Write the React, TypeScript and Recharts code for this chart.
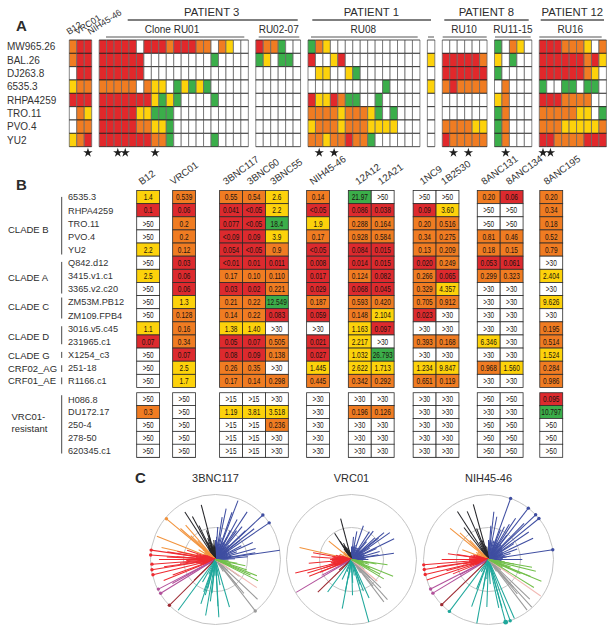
import React from 'react';
import { ScatterChart, Scatter, XAxis, YAxis, ReferenceDot, Symbols } from 'recharts';

const FONT = "'Liberation Sans', Arial, sans-serif";
const RED = '#e1282b';
const ORANGE = '#f07c22';
const YELLOW = '#fdd20b';
const GREEN = '#3bae4a';
const colorOf: Record<string, string> = { R: RED, O: ORANGE, Y: YELLOW, G: GREEN, W: '#ffffff' };

// ---- panel A: neutralization matrix, one string per virus row, per antibody group
const strainsA = ['MW965.26', 'BAL.26', 'DJ263.8', '6535.3', 'RHPA4259', 'TRO.11', 'PVO.4', 'YU2'];
const controls = ['ORR', 'ORR', 'WRR', 'YOO', 'RRR', 'WOY', 'WOO', 'YOR'];
const cloneRU01 = [
  'RRRRRWRRRORRROOWOYWW',
  'RRRRRRWWWWWWWWWGWWWW',
  'RRRRRRWWWWWWWWWWWWWW',
  'OOOOOWOYYWGYGYGWWWWW',
  'RRRRRRRYGYGWWWWGWWWW',
  'RRRRRYYGGGWWWWWWWWWW',
  'RRRRROOYYGWWWWWWWWWW',
  'RRRRRRROOGWWWWWGWWWW',
];
const ru0207 = ['ROOGWW', 'GYWGGW', 'WWWWWW', 'WWWWWW', 'WWWWWW', 'WWWWWW', 'WWWWWW', 'WWWWWW'];
const ru08 = [
  'GOYWWWWWWWWWWWW',
  'RWWYRWWWWWWWWWW',
  'WYYWWYGWWWWWWWW',
  'WWWWWWWWWWGWWWW',
  'RYYROGGWWGWWWWW',
  'OOOOYOOOYGWGWWW',
  'YOOOYOOOYYYYWWW',
  'OOYOOROOGWWWWWW',
];
const single = ['W', 'Y', 'W', 'Y', 'W', 'W', 'W', 'W'];
const ru10 = ['WWWWWW', 'RRRRRO', 'RRRRRR', 'OROOOO', 'WWWWWW', 'WWWWWW', 'OOOOYY', 'ROOOOO'];
const ru1115 = ['GWOYW', 'YWGWW', 'GWWWW', 'WOWWW', 'YOWWW', 'GOWWW', 'GOWWW', 'GOWWW'];
const ru16 = [
  'RRROOOYWO',
  'RRRRRRORY',
  'RRRRRROYW',
  'GWWGGWGGW',
  'RRROOOOWW',
  'OOOOOYYWG',
  'OOOYYYYYO',
  'RROOOORRR',
];
const starColumnsA = [2, 6, 7, 11, 33, 35, 51, 53, 58, 63, 64];

// ---- panel B: IC50 table
const strainsB = [
  '6535.3', 'RHPA4259', 'TRO.11', 'PVO.4', 'YU2', 'Q842.d12', '3415.v1.c1', '3365.v2.c20', 'ZM53M.PB12', 'ZM109.FPB4',
  '3016.v5.c45', '231965.c1', 'X1254_c3', '251-18', 'R1166.c1', 'H086.8', 'DU172.17', '250-4', '278-50', '620345.c1',
];
const antibodiesB = ['B12', 'VRC01', '3BNC117', '3BNC60', '3BNC55', 'NIH45-46', '12A12', '12A21', '1NC9', '1B2530', '8ANC131', '8ANC134', '8ANC195'];
const b12 = ['1.4', '0.1', '>50', '>50', '2.2', '>50', '2.5', '>50', '>50', '>50', '1.1', '0.07', '>50', '>50', '>50', '>50', '0.3', '>50', '>50', '>50'];
const vrc01 = ['0.539', '0.06', '0.2', '0.2', '0.12', '0.03', '0.06', '0.06', '1.3', '0.128', '0.16', '0.34', '0.07', '2.5', '1.7', '>50', '>50', '>50', '>50', '>50'];
const bnc117 = ['0.55', '0.041', '0.077', '<0.09', '0.054', '<0.01', '0.17', '0.03', '0.21', '0.14', '1.38', '0.05', '0.08', '0.26', '0.17', '>15', '1.19', '>15', '>15', '>15'];
const bnc60 = ['0.54', '<0.05', '<0.05', '0.09', '<0.05', '0.01', '0.10', '0.02', '0.22', '0.22', '1.40', '0.07', '0.09', '0.35', '0.14', '>15', '3.81', '>15', '>15', '>15'];
const bnc55 = ['2.6', '2.2', '18.4', '3.9', '0.9', '0.011', '0.110', '0.221', '12.549', '0.083', '>30', '0.505', '0.138', '>30', '0.298', '>30', '3.518', '0.236', '>30', '>30'];
const nih4546 = ['0.14', '<0.05', '1.9', '0.17', '<0.05', '0.008', '0.017', '0.029', '0.187', '0.059', '>30', '0.021', '0.027', '1.445', '0.445', '>30', '>30', '>30', '>30', '>30'];
const a12 = ['21.97', '0.086', '0.288', '0.928', '0.084', '0.014', '0.124', '0.068', '0.593', '0.148', '1.163', '2.217', '1.032', '2.622', '0.342', '>30', '0.196', '>30', '>30', '>30'];
const a21 = ['>50', '0.038', '0.164', '0.584', '0.015', '0.015', '0.082', '0.045', '0.420', '2.104', '0.097', '>30', '26.793', '1.713', '0.292', '>30', '0.126', '>30', '>30', '>30'];
const nc9 = ['>50', '0.09', '0.20', '0.34', '0.13', '0.020', '0.266', '0.329', '0.705', '0.023', '>30', '0.393', '>30', '1.234', '0.651', '>30', '>30', '>30', '>30', '>30'];
const b2530 = ['>50', '3.60', '0.516', '0.275', '0.209', '0.249', '0.065', '4.357', '0.912', '>30', '>30', '0.168', '>30', '9.847', '0.119', '>30', '>30', '>30', '>30', '>30'];
const anc131 = ['0.20', '>50', '>50', '0.81', '0.18', '0.053', '0.299', '>30', '>30', '>30', '>30', '6.346', '>30', '0.968', '>30', '>50', '>30', '>50', '>50', '>50'];
const anc134 = ['0.06', '>50', '>50', '0.46', '0.15', '0.061', '0.323', '>30', '>30', '>30', '>30', '>30', '>30', '1.560', '>30', '>50', '>30', '>50', '>50', '>50'];
const anc195 = ['0.20', '0.34', '0.18', '0.52', '0.79', '>30', '2.404', '>30', '9.626', '>30', '0.195', '0.514', '1.524', '0.284', '0.986', '0.095', '10.797', '>50', '>50', '>50'];

// ---- panel C: spokes as [angle clockwise from north in degrees, radius 0..1, tip dot size]
type Spoke = number[];
const bnc117Blue: Spoke[] = [[20.9, 0.97], [46.8, 1, 1], [55.7, 1, 1], [81.8, 1], [11.8, 0.8], [8.9, 0.66], [19.3, 0.77], [28.4, 0.7], [33.6, 0.88], [39, 0.65], [51.5, 0.76], [65.5, 0.63], [74.6, 0.64], [80.5, 0.62], [4, 0.5], [27, 0.5], [46, 0.64], [52, 0.48], [85, 0.5], [27, 0.39], [36, 0.55], [62, 0.45], [70, 0.35], [15, 0.35], [3, 0.35], [0, 0.3], [8, 0.28], [18, 0.25], [24, 0.3], [32, 0.28], [43, 0.3], [57, 0.25], [66, 0.22], [78, 0.25], [88, 0.3], [1, 0.25], [5, 0.22], [11, 0.25], [14, 0.2], [21, 0.22], [29, 0.2], [35, 0.22], [40, 0.25], [48, 0.2], [54, 0.22], [60, 0.2], [72, 0.2], [83, 0.18], [92, 0.2]];
const bnc117Black: Spoke[] = [[-14.6, 0.87], [-32.8, 0.87], [-28.3, 0.75], [-26, 0.58], [-17, 0.47], [-15, 0.39], [-5, 0.3], [-20, 0.35], [-10, 0.25], [-24, 0.3], [-30, 0.22], [-3, 0.2], [-7, 0.22], [-13, 0.2], [-18, 0.22], [-22, 0.18], [-27, 0.2], [-34, 0.18]];
const bnc117Orange: Spoke[] = [[-50.3, 0.98, 1], [-68.4, 0.97], [-41, 0.7], [-48.5, 0.72], [-46, 0.53], [-77.5, 0.85], [-43, 0.4], [-60, 0.3], [-52, 0.25], [-56, 0.2], [-64, 0.2]];
const bnc117Red: Spoke[] = [[-81.7, 1, 1], [-86, 1, 1], [-94.2, 0.98, 1], [-99.2, 0.99, 1], [-103.7, 0.99, 1], [-90, 0.87], [-81, 0.75], [-87, 0.75], [-98, 0.8], [-112, 0.86], [-110, 0.7], [-86, 0.6], [-96, 0.55], [-72, 0.46], [-92, 0.45], [-78, 0.6], [-70, 0.2], [-75, 0.3], [-80, 0.25], [-84, 0.3], [-89, 0.22], [-94, 0.28], [-101, 0.3], [-106, 0.25], [-112, 0.2], [-66, 0.15], [-68, 0.18], [-73, 0.2], [-77, 0.22], [-82, 0.2], [-87, 0.24], [-91, 0.2], [-97, 0.22], [-104, 0.2], [-108, 0.22], [-115, 0.18], [-119, 0.15]];
const bnc117Purple: Spoke[] = [[-117.4, 0.99, 1], [-121.6, 0.99, 1], [-119, 0.76]];
const bnc117Maroon: Spoke[] = [[-134.8, 1, 1], [-134, 0.46]];
const bnc117Teal: Spoke[] = [[-143.7, 0.97], [-170, 0.875], [176.7, 0.89], [163.7, 0.765], [-161.8, 0.72], [-173, 0.65], [-164, 0.57], [177, 0.72], [-160, 0.53], [-174, 0.52], [-165, 0.46], [-150, 0.4], [170, 0.4], [-178, 0.25], [-156, 0.25], [174, 0.25]];
const bnc117Gray: Spoke[] = [[142.3, 1, 1], [133.4, 0.89], [140, 0.68], [140, 0.51], [125, 0.45], [132, 0.25], [147, 0.22]];
const bnc117Pink: Spoke[] = [[124.2, 0.77]];
const bnc117Green: Spoke[] = [[111.4, 0.685], [116.6, 0.73], [108.6, 0.51], [114, 0.59], [102, 0.47], [100, 0.34], [106, 0.25], [112, 0.2], [97, 0.2]];

const vrcBlue: Spoke[] = [[19.4, 0.55], [10.8, 0.44], [37.5, 0.55], [32.7, 0.51], [55, 0.72], [50.4, 0.65], [64, 0.73], [81.6, 0.66], [51.7, 0.53], [47, 0.49], [74, 0.45], [80, 0.42], [40, 0.36], [14, 0.23], [37, 0.22], [66, 0.42], [5, 0.35], [58, 0.33], [90, 0.26], [62, 0.2], [0, 0.2], [24, 0.2], [48, 0.2], [72, 0.22], [84, 0.2], [3, 0.16], [9, 0.2], [17, 0.18], [29, 0.2], [33, 0.17], [43, 0.18], [54, 0.2], [68, 0.18], [77, 0.2], [87, 0.22], [94, 0.18]];
const vrcBlack: Spoke[] = [[-14.9, 0.65], [-32.8, 0.48], [-32, 0.33], [-26, 0.28], [-26, 0.22], [-20, 0.18], [-29, 0.25], [-35, 0.2], [-23, 0.2], [-15, 0.15], [-10, 0.12]];
const vrcOrange: Spoke[] = [[-77, 0.82], [-51, 0.45], [-45, 0.17], [-65, 0.2], [-55, 0.15]];
const vrcRed: Spoke[] = [[-86, 0.62], [-80, 0.6], [-95, 0.66], [-103.6, 0.89], [-107, 0.71], [-111.6, 0.7], [-112, 0.52], [-90, 0.33], [-103, 0.36], [-107, 0.45], [-75, 0.25], [-82, 0.3], [-86, 0.26], [-93, 0.3], [-98, 0.32], [-108, 0.25], [-114, 0.22], [-70, 0.15], [-72, 0.2], [-78, 0.22], [-84, 0.28], [-88, 0.3], [-91, 0.26], [-96, 0.28], [-100, 0.3], [-105, 0.3], [-110, 0.28], [-117, 0.18]];
const vrcPurple: Spoke[] = [[-120.7, 0.99], [-118, 0.52]];
const vrcMaroon: Spoke[] = [[-134, 0.72], [-130, 0.25]];
const vrcTeal: Spoke[] = [[-143.7, 0.62], [-169.3, 0.77], [164.5, 1], [178.4, 0.55], [-169, 0.51], [177, 0.36], [155.4, 0.65], [159.4, 0.52], [161, 0.41], [-171, 0.29], [-155, 0.34], [170, 0.25], [-160, 0.2], [-178, 0.2]];
const vrcGray: Spoke[] = [[138.2, 0.83], [142.6, 0.82], [134, 0.63], [141, 0.53], [135, 0.4], [146, 0.25], [128, 0.25]];
const vrcPink: Spoke[] = [[130, 0.52]];
const vrcGreen: Spoke[] = [[98.4, 0.56], [112, 0.69], [121, 0.58], [117, 0.49], [115, 0.31], [100, 0.39], [100, 0.24], [108, 0.2], [105, 0.28]];

const nihBlue: Spoke[] = [[19.9, 1, 1], [37.8, 1, 1], [46.5, 1, 1], [50.9, 1, 1], [81.4, 1, 1], [6.4, 0.74], [11, 0.67], [4, 0.52], [25.9, 0.56], [30.6, 0.63], [33.3, 0.76], [44.5, 0.78], [55.7, 0.75], [64.5, 0.76], [90, 0.52], [58, 0.46], [70, 0.47], [22, 0.49], [22, 0.32], [37, 0.47], [75, 0.35], [0, 0.3], [12, 0.28], [30, 0.3], [48, 0.28], [62, 0.25], [82, 0.28], [3, 0.26], [7, 0.3], [16, 0.3], [26, 0.28], [34, 0.26], [41, 0.3], [52, 0.26], [67, 0.24], [72, 0.22], [78, 0.26], [86, 0.22], [94, 0.2]];
const nihBlack: Spoke[] = [[-15.4, 0.88], [-32.9, 0.88], [-23.9, 0.81], [-37.5, 0.62], [-21, 0.51], [-19, 0.31], [-8, 0.2], [-28, 0.3], [-33, 0.2], [-13, 0.22]];
const nihOrange: Spoke[] = [[-51, 0.76], [-69.4, 0.43], [-47, 0.6], [-44, 0.41], [-60, 0.22], [-54, 0.2], [-65, 0.2]];
const nihRed: Spoke[] = [[-82, 0.63], [-81, 0.49], [-94.7, 1, 1], [-98.8, 1, 1], [-103.3, 1, 1], [-108.4, 1], [-90, 0.72], [-98, 0.8], [-105, 0.67], [-112, 0.59], [-100, 0.4], [-72, 0.2], [-78, 0.28], [-85, 0.3], [-92, 0.25], [-96, 0.3], [-104, 0.28], [-110, 0.22], [-74, 0.25], [-76, 0.2], [-83, 0.25], [-88, 0.3], [-90, 0.2], [-94, 0.3], [-102, 0.24], [-107, 0.3], [-114, 0.2]];
const nihPurple: Spoke[] = [[-117, 1, 1], [-121.2, 1, 1], [-118, 0.5]];
const nihMaroon: Spoke[] = [[-134, 1, 1]];
const nihTeal: Spoke[] = [[-143, 1, 1], [-169.6, 1], [164.7, 1, 2], [160.5, 1, 1], [156.3, 0.99], [-178, 0.73], [-160.3, 0.77], [-170, 0.46], [-158, 0.49], [168, 0.76], [164.4, 0.77], [176, 0.38], [-175, 0.3], [-150, 0.22], [172, 0.2]];
const nihGray: Spoke[] = [[137.8, 0.99], [142.7, 0.98], [133.8, 0.88], [140, 0.69], [138, 0.58], [130, 0.25], [146, 0.22]];
const nihPink: Spoke[] = [[124.9, 0.98]];
const nihGreen: Spoke[] = [[112.4, 0.88], [121.6, 0.82], [104, 0.75], [100, 0.68], [112, 0.7], [114, 0.54], [100, 0.4], [109, 0.36], [105, 0.22], [118, 0.25], [98, 0.25]];

const BLUE = '#3f4ea1';
const BLACK = '#26262a';
const SPOKE_ORANGE = '#f2933c';
const SPOKE_RED = '#ee2a30';
const PURPLE = '#b2519b';
const MAROON = '#9d2b33';
const TEAL = '#1fa79b';
const GRAY = '#9a9a9a';
const PINK = '#f2b9b4';
const SPOKE_GREEN = '#72bf4a';

// ---- layout
const aGroups = [controls, cloneRU01, ru0207, ru08, single, ru10, ru1115, ru16];
const aGroupStart = [0, 4, 25, 32, 48, 50, 57, 63];
const A_CELL_W = 7.46;
const A_CELL_H = 13.33;
const B_CELL_W = 22.9;
const B_CELL_H = 13.13;
const B_TOP = 137.78; // page y of panel B's chart
const bColumns = [b12, vrc01, bnc117, bnc60, bnc55, nih4546, a12, a21, nc9, b2530, anc131, anc134, anc195];
const bColumnPos = [0, 1.57, 3.62, 4.62, 5.62, 7.42, 9.24, 10.24, 12.07, 13.07, 14.87, 15.87, 17.6];
const bRowPos = strainsB.map((_, i) => (i < 15 ? i + 0.5 : 15.41 + (i - 15 + 0.5) * 0.98));

const cellsA = aGroups.flatMap((rows, g) =>
  rows.flatMap((row, r) => [...row].map((code, c) => ({ x: aGroupStart[g] + c + 0.5, y: r + 0.5, code }))),
);
const starsA = starColumnsA.map((c) => ({ x: c + 0.5, y: 8.45 }));

// IC50 colour bins; the 0.1 of B12 on RHPA4259 is printed red, the 0.10 of 3BNC60 orange
const binColor = (v: string) => {
  if (v[0] === '>') return '#ffffff';
  const n = parseFloat(v.replace('<', ''));
  if (n < 0.1 || v === '0.1') return '#dd2a2e';
  if (n < 1) return ORANGE;
  if (n < 10) return YELLOW;
  return GREEN;
};
const cellsB = bColumns.flatMap((values, c) =>
  values.map((value, r) => ({ x: bColumnPos[c] + 0.5, y: bRowPos[r], value })),
);

const HeatCellA = (props: any) => {
  const { cx, cy, payload } = props;
  const x = cx - A_CELL_W / 2;
  const y = cy - A_CELL_H / 2;
  return (
    <g>
      <rect x={x} y={y} width={A_CELL_W} height={A_CELL_H} fill={colorOf[payload.code]} />
      <line x1={x} x2={x} y1={y} y2={y + A_CELL_H} stroke="#6a6a6a" strokeWidth={0.8} />
      <line x1={x + A_CELL_W} x2={x + A_CELL_W} y1={y} y2={y + A_CELL_H} stroke="#6a6a6a" strokeWidth={0.8} />
      <line x1={x} x2={x + A_CELL_W} y1={y} y2={y} stroke="#1e1e1e" strokeWidth={0.8} />
      <line x1={x} x2={x + A_CELL_W} y1={y + A_CELL_H} y2={y + A_CELL_H} stroke="#1e1e1e" strokeWidth={0.8} />
    </g>
  );
};

const HeatCellB = (props: any) => {
  const { cx, cy, payload } = props;
  return (
    <g>
      <rect x={cx - B_CELL_W / 2} y={cy - B_CELL_H / 2} width={B_CELL_W} height={B_CELL_H} fill={binColor(payload.value)} stroke="#2b2b2b" strokeWidth={0.8} />
      <text
        transform={`translate(${cx},${cy + 3.2}) scale(0.7,1)`}
        textAnchor="middle"
        fontFamily={FONT}
        fontSize={9.3}
        fill="#1c1410"
      >
        {payload.value}
      </text>
    </g>
  );
};

const StarMark = (props: any) => <Symbols type="star" size={27} cx={props.cx} cy={props.cy} fill="#1f1f1f" />;

const RowTick = ({ x0, size, labels }: { x0: number; size: number; labels: string[] }) => (props: any) => (
  <text x={x0} y={props.y + size * 0.36} fontFamily={FONT} fontSize={size} fill="#333" textAnchor="start">
    {labels[props.index]}
  </text>
);

const Label = ({ x, y, size = 10, anchor = 'middle', weight, children }: any) => (
  <text x={x} y={y} fontFamily={FONT} fontSize={size} fontWeight={weight} textAnchor={anchor} fill="#2c2c2c">
    {children}
  </text>
);

const Rule = ({ x1, x2, y, w = 1 }: any) => <line x1={x1} x2={x2} y1={y} y2={y} stroke="#555" strokeWidth={w} />;

const Tilted = ({ x, y, size, angle, children }: any) => (
  <text transform={`translate(${x},${y}) rotate(${angle})`} fontFamily={FONT} fontSize={size} fill="#333">
    {children}
  </text>
);

const PanelA = () => (
  <ScatterChart width={614} height={160} margin={{ top: 0, right: 7.6, left: 0, bottom: 0 }}>
    <XAxis type="number" dataKey="x" domain={[0, 72]} hide />
    <YAxis
      type="number"
      dataKey="y"
      domain={[-3, 9]}
      reversed
      width={69.3}
      ticks={strainsA.map((_, i) => i + 0.5)}
      interval={0}
      axisLine={false}
      tickLine={false}
      tick={RowTick({ x0: 7, size: 10, labels: strainsA })}
    />
    <Scatter data={cellsA} shape={HeatCellA} isAnimationActive={false} />
    <Scatter data={starsA} shape={StarMark} isAnimationActive={false} />

    <Label x={16} y={31} size={15} anchor="start" weight="bold">A</Label>
    <Tilted x={69} y={35} size={9} angle={-33}>B12</Tilted>
    <Tilted x={77} y={35} size={9} angle={-33}>VRC01</Tilted>
    <Tilted x={90} y={35} size={9} angle={-33}>NIH45-46</Tilted>

    <Label x={211.7} y={15.7} size={11.3}>PATIENT 3</Label>
    <Rule x1={127.7} x2={297.7} y={20} w={1.4} />
    <Label x={172} y={33} size={10}>Clone RU01</Label>
    <Rule x1={106} x2={244.3} y={37} />
    <Label x={278.7} y={33} size={10}>RU02-07</Label>
    <Rule x1={258.7} x2={299.3} y={37} />

    <Label x={371.3} y={15.7} size={11.3}>PATIENT 1</Label>
    <Rule x1={312.3} x2={431} y={20} w={1.4} />
    <Label x={363.3} y={33} size={10}>RU08</Label>
    <Rule x1={311} x2={417.7} y={37} />
    <Rule x1={428} x2={434} y={37} />

    <Label x={486.3} y={15.7} size={11.3}>PATIENT 8</Label>
    <Rule x1={444.3} x2={528.7} y={20} w={1.4} />
    <Label x={464} y={33} size={10}>RU10</Label>
    <Rule x1={442.7} x2={486.7} y={37} />
    <Label x={513} y={33} size={10}>RU11-15</Label>
    <Rule x1={495} x2={530.7} y={37} />

    <Label x={572.3} y={15.7} size={11.3}>PATIENT 12</Label>
    <Rule x1={540.7} x2={604} y={20} w={1.4} />
    <Label x={570.3} y={33} size={10}>RU16</Label>
    <Rule x1={539.3} x2={601.7} y={37} />
  </ScatterChart>
);

const tiltStarts = [141.7, 173.3, 226, 250, 273.3, 312.7, 358.3, 381, 422.7, 444, 484.3, 509, 546.7];

const cladeBars = [[196.7, 254.3], [261.7, 293.3], [297.3, 318.3], [326, 344], [351.7, 357.7], [365, 371.7], [377.3, 384], [395, 453.3]];

// clade captions with their page y
const cladeLabels: [string, number, number][] = [
  ['CLADE B', 8, 232.5],
  ['CLADE A', 8, 280.5],
  ['CLADE C', 8, 310],
  ['CLADE D', 8, 339.5],
  ['CLADE G', 8, 358.5],
  ['CRF02_AG', 8, 371.5],
  ['CRF01_AE', 8, 384],
  ['VRC01-', 11.5, 420],
  ['resistant', 11.5, 431.5],
];

// heavier grey foot under the resistant block
const footSpans = [[136.7, 159.6], [172.7, 195.6], [219.7, 288.4], [306.7, 329.6], [348.3, 394.1], [413, 458.8], [477, 522.8]];

const PanelB = () => (
  <ScatterChart width={614} height={328.25} margin={{ top: 0, right: 51.3, left: 0, bottom: 0 }}>
    <XAxis type="number" dataKey="x" domain={[0, 18.6]} hide />
    <YAxis
      type="number"
      dataKey="y"
      domain={[-4, 21]}
      reversed
      width={136.7}
      ticks={bRowPos}
      interval={0}
      axisLine={false}
      tickLine={false}
      tick={RowTick({ x0: 68, size: 9.2, labels: strainsB })}
    />
    <Scatter data={cellsB} shape={HeatCellB} isAnimationActive={false} />

    <Label x={16} y={190 - B_TOP} size={15} anchor="start" weight="bold">B</Label>
    {antibodiesB.map((name, i) => (
      <Tilted key={name} x={tiltStarts[i]} y={185 - B_TOP} size={9.8} angle={-36}>{name}</Tilted>
    ))}
    {cladeBars.map(([a, b]) => (
      <line key={a} x1={61.7} x2={61.7} y1={a - B_TOP} y2={b - B_TOP} stroke="#333" strokeWidth={0.9} />
    ))}
    {cladeLabels.map(([name, x, y]) => (
      <Label key={name} x={x} y={y - B_TOP} size={9.5} anchor="start">{name}</Label>
    ))}
    {footSpans.map(([a, b]) => (
      <Rule key={a} x1={a} x2={b} y={457 - B_TOP} w={1.3} />
    ))}
  </ScatterChart>
);

const SpokeTip = (color: string) => (props: any) =>
  props.payload.dot ? <circle cx={props.cx} cy={props.cy} r={props.payload.dot === 2 ? 2.4 : 1.7} fill={color} /> : <g />;

const toPoints = (s: Spoke) => {
  const a = (s[0] * Math.PI) / 180;
  return [
    { x: 0, y: 0 },
    { x: s[1] * Math.sin(a), y: s[1] * Math.cos(a), dot: s[2] },
  ];
};

const SpokePlot = ({ title, letter, groups }: { title: string; letter?: string; groups: [string, Spoke[]][] }) => (
  <ScatterChart width={163} height={165} margin={{ top: 22, right: 10, left: 10, bottom: 0 }}>
    <XAxis type="number" dataKey="x" domain={[-1.1, 1.1]} hide />
    <YAxis type="number" dataKey="y" domain={[-1.1, 1.1]} hide />
    <ReferenceDot x={0} y={0} r={65} fill="none" stroke="#bdbdbd" strokeWidth={0.9} />
    <ReferenceDot x={0} y={0} r={32} fill="none" stroke="#bdbdbd" strokeWidth={0.9} />
    {groups.flatMap(([color, spokes], g) =>
      spokes.map((s, i) => (
        <Scatter
          key={`${g}-${i}`}
          data={toPoints(s)}
          line={{ stroke: color, strokeWidth: 1.05 }}
          shape={SpokeTip(color)}
          isAnimationActive={false}
        />
      )),
    )}
    <Label x={81.5} y={16} size={11}>{title}</Label>
    {letter && <Label x={1} y={17} size={15} anchor="start" weight="bold">{letter}</Label>}
  </ScatterChart>
);

const box = (left: number, top: number): React.CSSProperties => ({ position: 'absolute', left, top });

export default function App() {
  return (
    <div style={{ position: 'absolute', left: 0, top: 0, width: 614, height: 633, background: '#fff', fontFamily: FONT }}>
      <div style={box(0, 0)}><PanelA /></div>
      <div style={box(0, B_TOP)}><PanelB /></div>
      <div style={box(133.5, 465.8)}>
        <SpokePlot
          title="3BNC117"
          letter="C"
          groups={[[BLUE, bnc117Blue], [BLACK, bnc117Black], [SPOKE_ORANGE, bnc117Orange], [SPOKE_RED, bnc117Red], [PURPLE, bnc117Purple], [MAROON, bnc117Maroon], [TEAL, bnc117Teal], [GRAY, bnc117Gray], [PINK, bnc117Pink], [SPOKE_GREEN, bnc117Green]]}
        />
      </div>
      <div style={box(269.8, 465.8)}>
        <SpokePlot
          title="VRC01"
          groups={[[BLUE, vrcBlue], [BLACK, vrcBlack], [SPOKE_ORANGE, vrcOrange], [SPOKE_RED, vrcRed], [PURPLE, vrcPurple], [MAROON, vrcMaroon], [TEAL, vrcTeal], [GRAY, vrcGray], [PINK, vrcPink], [SPOKE_GREEN, vrcGreen]]}
        />
      </div>
      <div style={box(406.8, 465.8)}>
        <SpokePlot
          title="NIH45-46"
          groups={[[BLUE, nihBlue], [BLACK, nihBlack], [SPOKE_ORANGE, nihOrange], [SPOKE_RED, nihRed], [PURPLE, nihPurple], [MAROON, nihMaroon], [TEAL, nihTeal], [GRAY, nihGray], [PINK, nihPink], [SPOKE_GREEN, nihGreen]]}
        />
      </div>
    </div>
  );
}
